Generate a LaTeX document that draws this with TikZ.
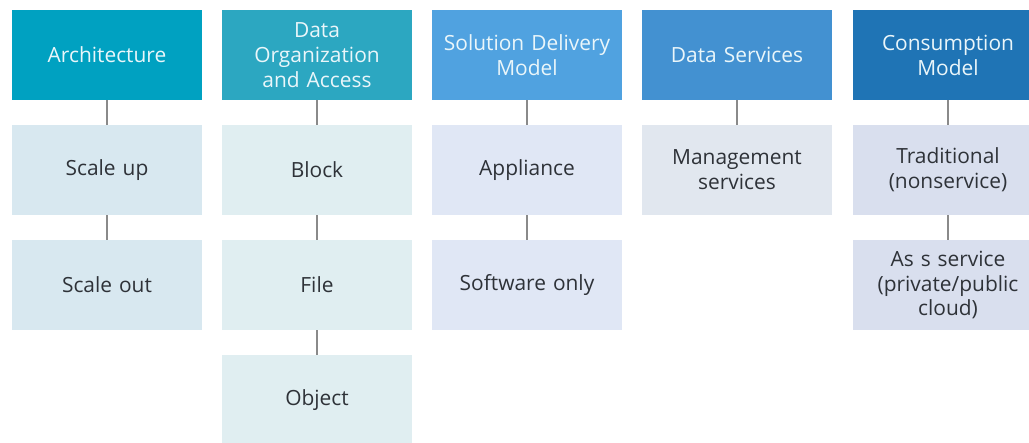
\documentclass[tikz,border=0pt]{standalone}
\usepackage{fontspec}
\setmainfont{Open Sans}
\definecolor{hA}{HTML}{00A1C1}
\definecolor{hB}{HTML}{2CA7C1}
\definecolor{hC}{HTML}{50A2E0}
\definecolor{hD}{HTML}{4391D1}
\definecolor{hE}{HTML}{1F74B5}
\definecolor{cA}{HTML}{D8E8F0}
\definecolor{cB}{HTML}{E0EEF1}
\definecolor{cC}{HTML}{E0E7F5}
\definecolor{cD}{HTML}{E1E7EF}
\definecolor{cE}{HTML}{D9DFEE}
\definecolor{linkc}{HTML}{8A8A8A}
\definecolor{txt}{HTML}{2E3238}
\definecolor{htxt}{HTML}{EAF6FA}
\tikzset{
  box/.style={rectangle, minimum width=190bp, minimum height=90bp, inner sep=0pt,
    text width=186bp, align=center, font=\fontsize{21}{25}\selectfont},
  head/.style={box, text=htxt},
  item/.style={box, text=txt},
  link/.style={draw=linkc, line width=2bp},
}
\begin{document}
\begin{tikzpicture}[x=1bp,y=-1bp]
\useasboundingbox[fill=white] (0,0) rectangle (1029,443);
% headers
\node[head, fill=hA] (h1) at (107,55) {Architecture};
\node[head, fill=hB] (h2) at (317,55) {Data\\Organization\\and Access};
\node[head, fill=hC] (h3) at (527,55) {Solution Delivery\\Model};
\node[head, fill=hD] (h4) at (737,55) {Data Services};
\node[head, fill=hE] (h5) at (948,55) {Consumption\\Model};
% column 1
\node[item, fill=cA] (a1) at (107,170) {Scale up};
\node[item, fill=cA] (a2) at (107,285) {Scale out};
% column 2
\node[item, fill=cB] (b1) at (317,170) {Block};
\node[item, fill=cB] (b2) at (317,285) {File};
\node[item, fill=cB] (b3) at (317,400) {Object};
% column 3
\node[item, fill=cC] (c1) at (527,170) {Appliance};
\node[item, fill=cC] (c2) at (527,285) {Software only};
% column 4
\node[item, fill=cD] (d1) at (737,170) {Management\\services};
% column 5
\node[item, fill=cE] (e1) at (948,170) {Traditional\\(nonservice)};
\node[item, fill=cE] (e2) at (948,285) {As s service\\(private/public\\cloud)};
% connectors
\draw[link] (h1) -- (a1);
\draw[link] (a1) -- (a2);
\draw[link] (h2) -- (b1);
\draw[link] (b1) -- (b2);
\draw[link] (b2) -- (b3);
\draw[link] (h3) -- (c1);
\draw[link] (c1) -- (c2);
\draw[link] (h4) -- (d1);
\draw[link] (h5) -- (e1);
\draw[link] (e1) -- (e2);
\end{tikzpicture}
\end{document}
